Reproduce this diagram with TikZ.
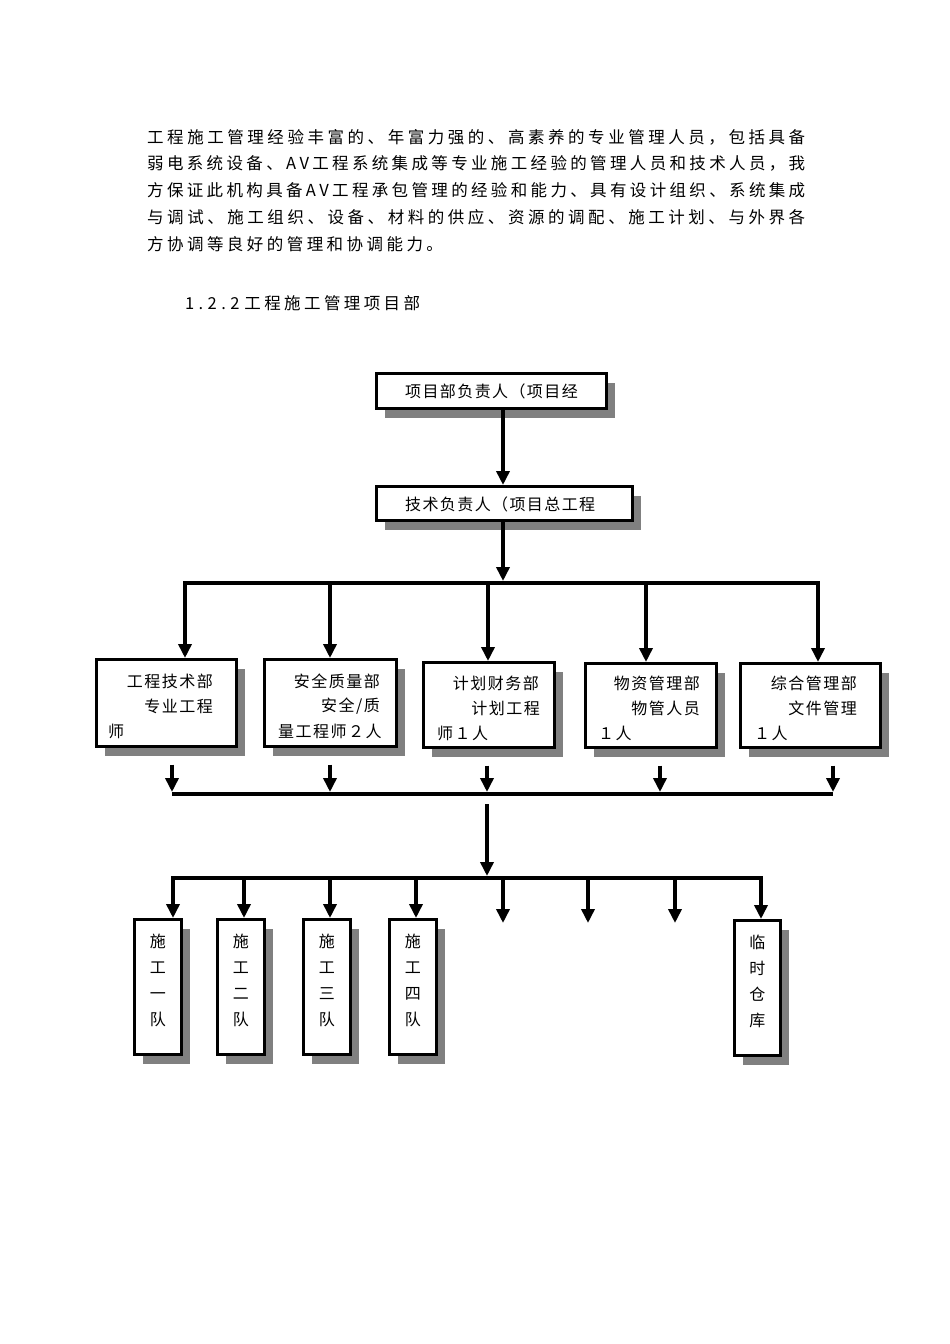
\documentclass[tikz,border=0pt]{standalone}
\usepackage{fontspec}
\newfontfamily\cjk{Noto Sans CJK SC}
\usetikzlibrary{arrows.meta,shadows}
% justified line: glue between every character
\newcommand\jline[1]{\hbox to 658pt{\jfirst#1\relax}}
\def\jfirst#1{#1\jrest}
\def\jrest#1{\ifx#1\relax\else\hskip 0pt plus 1fil\relax#1\expandafter\jrest\fi}
% line with fixed gap between characters
\newcommand\gline[2]{\hbox{\def\gapsz{#1}\gfirst#2\relax}}
\def\gfirst#1{#1\grest}
\def\grest#1{\ifx#1\relax\else\hskip\gapsz\relax#1\expandafter\grest\fi}
\tikzset{
  box/.style={draw=black, line width=2.5pt, fill=white, inner sep=0pt, anchor=north west,
    drop shadow={shadow xshift=9pt, shadow yshift=-9.5pt, fill=black!50, opacity=1}},
  wire/.style={line width=4pt},
  tip/.tip={Triangle[length=14pt,width=13pt]},
  arr/.style={line width=4pt, -tip},
  arr2/.style={line width=4pt, tip-tip},
  txt/.style={inner sep=0pt, font=\cjk\fontsize{16}{18}\selectfont},
  ttxt/.style={inner sep=0pt, align=center, font=\cjk\fontsize{16}{26}\selectfont},
  ptxt/.style={inner sep=0pt, anchor=west, font=\cjk\fontsize{16.5}{18}\selectfont},
}
\begin{document}
\begin{tikzpicture}[x=1pt,y=-1pt]
\useasboundingbox (0,0) rectangle (950,1344);
\fill[white] (0,0) rectangle (950,1344);

% paragraph
\node[ptxt] (l1) at (147,137) {\jline{工程施工管理经验丰富的、年富力强的、高素养的专业管理人员，包括具备}};
\node[ptxt] (l2) at (147,163) {\jline{弱电系统设备、AV工程系统集成等专业施工经验的管理人员和技术人员，我}};
\node[ptxt] (l3) at (147,190) {\jline{方保证此机构具备AV工程承包管理的经验和能力、具有设计组织、系统集成}};
\node[ptxt] (l4) at (147,217) {\jline{与调试、施工组织、设备、材料的供应、资源的调配、施工计划、与外界各}};
\node[ptxt] (l5) at (147,244) {\gline{3.45pt}{方协调等良好的管理和协调能力。}};
\node[ptxt] (hd) at (185,303) {\gline{4.4pt}{1.2.2}\hskip5pt\gline{3.4pt}{工程施工管理项目部}};

% top boxes
\node[box, minimum width=230pt, minimum height=35pt] (b1) at (375,372) {};
\node[txt, anchor=west] (b1t) at (405,391) {\gline{1.4pt}{项目部负责人（项目经}};
\node[box, minimum width=256pt, minimum height=34pt] (b2) at (375,485) {};
\node[txt, anchor=west] (b2t) at (405,504) {\gline{1.4pt}{技术负责人（项目总工程}};

% department boxes
\node[box, minimum width=140pt, minimum height=87pt] (d1) at (95,658) {};
\node[box, minimum width=132pt, minimum height=87pt] (d2) at (263,658) {};
\node[box, minimum width=131pt, minimum height=85pt] (d3) at (422,661) {};
\node[box, minimum width=131pt, minimum height=84pt] (d4) at (584,662) {};
\node[box, minimum width=140pt, minimum height=84pt] (d5) at (739,662) {};

\node[txt, anchor=east] (d1a) at (213,681) {\gline{1.5pt}{工程技术部}};
\node[txt, anchor=east] (d1b) at (213,706) {\gline{1.5pt}{专业工程}};
\node[txt, anchor=west] (d1c) at (108,731) {师};
\node[txt, anchor=east] (d2a) at (380,681) {\gline{1.5pt}{安全质量部}};
\node[txt, anchor=east] (d2b) at (380,706) {\gline{1.5pt}{安全/质}};
\node[txt, anchor=west] (d2c) at (278,731) {\gline{1.5pt}{量工程师２人}};
\node[txt, anchor=east] (d3a) at (539,683) {\gline{1.5pt}{计划财务部}};
\node[txt, anchor=east] (d3b) at (540,708) {\gline{1.5pt}{计划工程}};
\node[txt, anchor=west] (d3c) at (437,733) {\gline{1.5pt}{师１人}};
\node[txt, anchor=east] (d4a) at (700,683) {\gline{1.5pt}{物资管理部}};
\node[txt, anchor=east] (d4b) at (700,708) {\gline{1.5pt}{物管人员}};
\node[txt, anchor=west] (d4c) at (598,733) {\gline{1.5pt}{１人}};
\node[txt, anchor=east] (d5a) at (857,683) {\gline{1.5pt}{综合管理部}};
\node[txt, anchor=east] (d5b) at (857,708) {\gline{1.5pt}{文件管理}};
\node[txt, anchor=west] (d5c) at (754,733) {\gline{1.5pt}{１人}};

% team boxes
\node[box, minimum width=47pt, minimum height=135pt] (t1) at (133,918) {};
\node[box, minimum width=47pt, minimum height=135pt] (t2) at (216,918) {};
\node[box, minimum width=47pt, minimum height=135pt] (t3) at (302,918) {};
\node[box, minimum width=47pt, minimum height=135pt] (t4) at (388,918) {};
\node[box, minimum width=46pt, minimum height=135pt] (t5) at (733,919) {};
\node[ttxt, yshift=6pt] (t1l) at (t1.center) {施\\工\\一\\队};
\node[ttxt, yshift=6pt] (t2l) at (t2.center) {施\\工\\二\\队};
\node[ttxt, yshift=6pt] (t3l) at (t3.center) {施\\工\\三\\队};
\node[ttxt, yshift=6pt] (t4l) at (t4.center) {施\\工\\四\\队};
\node[ttxt, yshift=6pt] (t5l) at (t5.center) {临\\时\\仓\\库};

% junction coordinates
\coordinate (j1) at (503,583);
\coordinate (k1) at (185,583);
\coordinate (k2) at (330,583);
\coordinate (k3) at (488,583);
\coordinate (k4) at (646,583);
\coordinate (k5) at (818,583);
\coordinate (m1) at (172,794);
\coordinate (m2) at (330,794);
\coordinate (m3) at (487,794);
\coordinate (m4) at (660,794);
\coordinate (m5) at (833,794);
\coordinate (n0) at (487,878);
\coordinate (r1) at (173,878);
\coordinate (r2) at (244,878);
\coordinate (r3) at (330,878);
\coordinate (r4) at (416,878);
\coordinate (r5) at (503,878);
\coordinate (r6) at (588,878);
\coordinate (r7) at (675,878);
\coordinate (r8) at (761,878);
\coordinate (q5) at (503,923);
\coordinate (q6) at (588,923);
\coordinate (q7) at (675,923);

% connectors
\draw[arr] (b1.south -| j1) -- (b2.north -| j1);
\draw[arr, shorten >=2pt] (b2.south -| j1) -- (j1);
\draw[arr2] (d1.north -| k1) |- (k5) -- (d5.north -| k5);
\draw[arr] (k2) -- (d2.north -| k2);
\draw[arr] (k3) -- (d3.north -| k3);
\draw[arr] (k4) -- (d4.north -| k4);

\draw[arr, shorten <=17pt, shorten >=2pt] (d1.south -| m1) -- (m1);
\draw[arr, shorten <=17pt, shorten >=2pt] (d2.south -| m2) -- (m2);
\draw[arr, shorten <=17pt, shorten >=2pt] (d3.south -| m3) -- (m3);
\draw[arr, shorten <=17pt, shorten >=2pt] (d4.south -| m4) -- (m4);
\draw[arr, shorten <=17pt, shorten >=2pt] (d5.south -| m5) -- (m5);
\draw[wire] (m1) -- (m5);

\draw[arr, shorten <=10pt, shorten >=2pt] (m3) -- (n0);
\draw[arr2] (t1.north -| r1) |- (r8) -- (t5.north -| r8);
\draw[arr] (r2) -- (t2.north -| r2);
\draw[arr] (r3) -- (t3.north -| r3);
\draw[arr] (r4) -- (t4.north -| r4);
\draw[arr] (r5) -- (q5);
\draw[arr] (r6) -- (q6);
\draw[arr] (r7) -- (q7);
\end{tikzpicture}
\end{document}
